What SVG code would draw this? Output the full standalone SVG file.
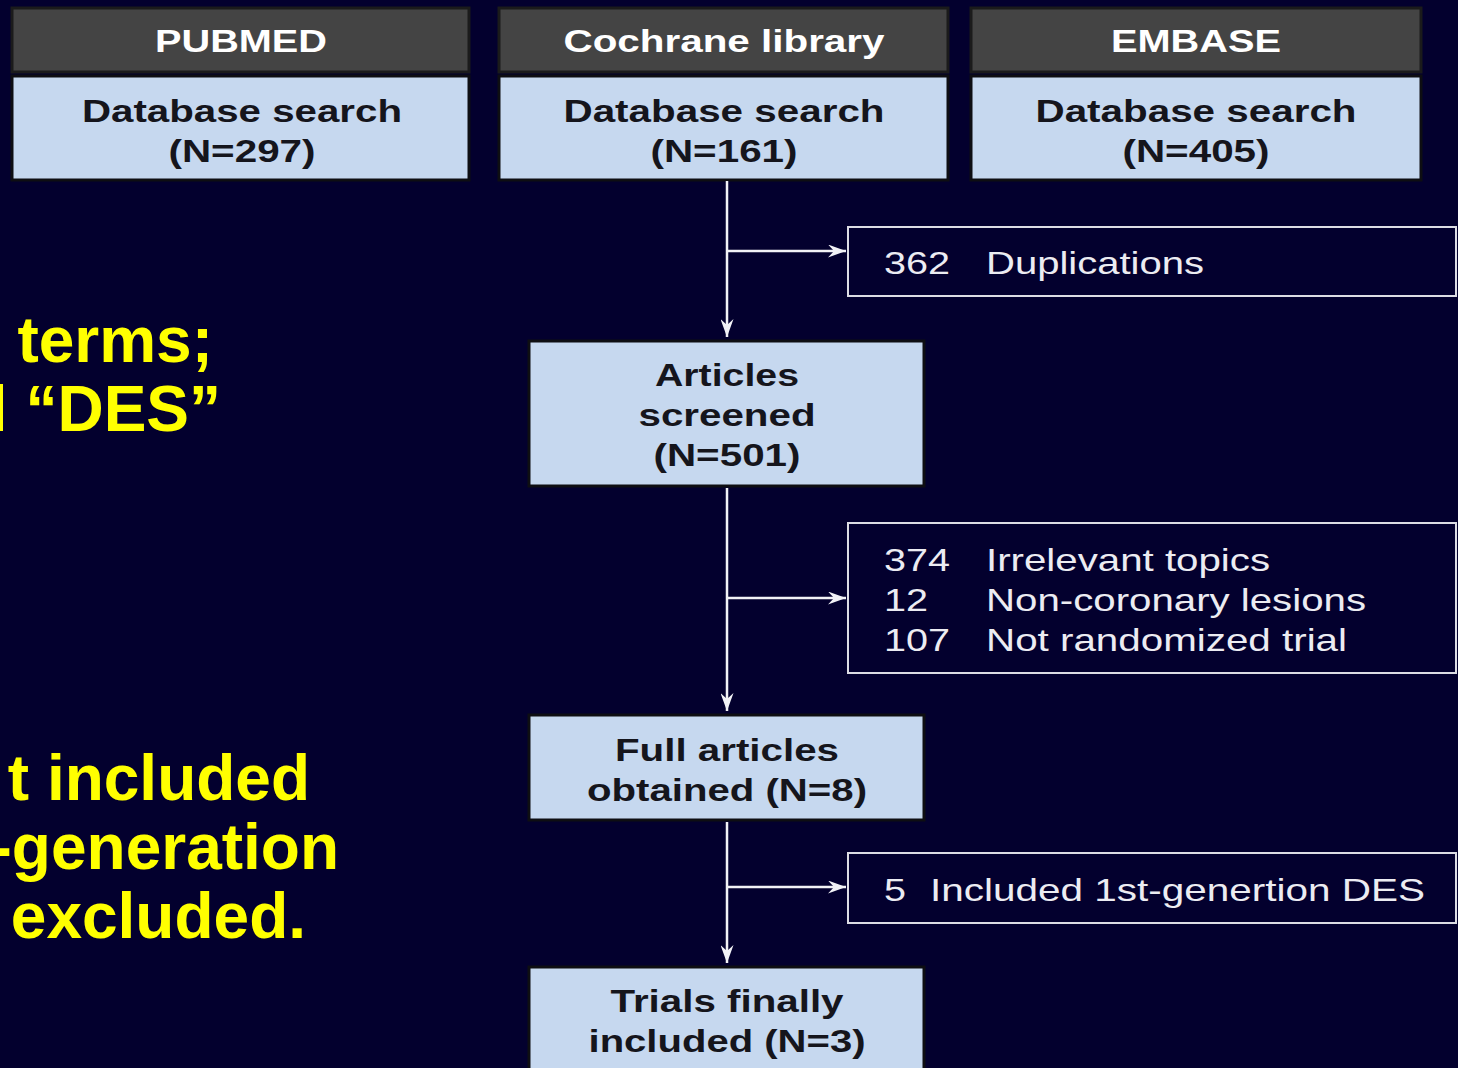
<svg xmlns="http://www.w3.org/2000/svg" width="1458" height="1068" viewBox="0 0 1458 1068">
<defs>
<marker id="arr" markerUnits="userSpaceOnUse" markerWidth="18" markerHeight="13" refX="18" refY="6.5" orient="auto">
<path d="M0,0 L18,6.5 L0,13 L6,6.5 z" fill="#f2f2f6"/>
</marker>
<style>
.hd{fill:#444444;stroke:#1b1b1b;stroke-width:3}
.bx{fill:#c6d8ef;stroke:#0e0e12;stroke-width:3}
.ex{fill:none;stroke:#dcdce4;stroke-width:2}
.ht{font-family:"Liberation Sans",Arial,sans-serif;font-weight:bold;font-size:32px;fill:#ffffff;text-anchor:middle}
.bt{font-family:"Liberation Sans",Arial,sans-serif;font-weight:bold;font-size:32px;fill:#15151c;text-anchor:middle}
.et{font-family:"Liberation Sans",Arial,sans-serif;font-size:32px;fill:#ececf2}
.yt{font-family:"Liberation Sans",Arial,sans-serif;font-weight:bold;font-size:64px;fill:#ffff00;text-anchor:end}
.ln{stroke:#f2f2f6;stroke-width:2.5;fill:none}
</style>
</defs>
<rect x="0" y="0" width="1458" height="1068" fill="#03002e"/>

<g id="yellow-text">
<text class="yt" x="213" y="362">terms;</text>
<text class="yt" x="221" y="431">l “DES”</text>
<text class="yt" x="310" y="800">t included</text>
<text class="yt" x="339" y="869">-generation</text>
<text class="yt" x="306" y="938">excluded.</text>
</g>

<g id="pubmed">
<rect class="hd" x="12" y="8" width="457" height="64"/>
<text class="ht" x="241" y="52" textLength="172" lengthAdjust="spacingAndGlyphs">PUBMED</text>
<rect class="bx" x="12" y="76" width="457" height="104"/>
<text class="bt" x="242" y="122" textLength="320" lengthAdjust="spacingAndGlyphs">Database search</text>
<text class="bt" x="242" y="162" textLength="147" lengthAdjust="spacingAndGlyphs">(N=297)</text>
</g>

<g id="cochrane">
<rect class="hd" x="499" y="8" width="449" height="64"/>
<text class="ht" x="724" y="52" textLength="321" lengthAdjust="spacingAndGlyphs">Cochrane library</text>
<rect class="bx" x="499" y="76" width="449" height="104"/>
<text class="bt" x="724" y="122" textLength="321" lengthAdjust="spacingAndGlyphs">Database search</text>
<text class="bt" x="724" y="162" textLength="147" lengthAdjust="spacingAndGlyphs">(N=161)</text>
</g>

<g id="embase">
<rect class="hd" x="971" y="8" width="450" height="64"/>
<text class="ht" x="1196" y="52" textLength="170" lengthAdjust="spacingAndGlyphs">EMBASE</text>
<rect class="bx" x="971" y="76" width="450" height="104"/>
<text class="bt" x="1196" y="122" textLength="321" lengthAdjust="spacingAndGlyphs">Database search</text>
<text class="bt" x="1196" y="162" textLength="147" lengthAdjust="spacingAndGlyphs">(N=405)</text>
</g>

<g id="duplications">
<rect class="ex" x="848" y="227" width="608" height="69"/>
<text class="et" x="884" y="274" textLength="66" lengthAdjust="spacingAndGlyphs">362</text>
<text class="et" x="986" y="274" textLength="218" lengthAdjust="spacingAndGlyphs">Duplications</text>
</g>

<g id="articles-screened">
<rect class="bx" x="529" y="341" width="395" height="145"/>
<text class="bt" x="727" y="386" textLength="144" lengthAdjust="spacingAndGlyphs">Articles</text>
<text class="bt" x="727" y="426" textLength="177" lengthAdjust="spacingAndGlyphs">screened</text>
<text class="bt" x="727" y="466" textLength="147" lengthAdjust="spacingAndGlyphs">(N=501)</text>
</g>

<g id="exclusions">
<rect class="ex" x="848" y="523" width="608" height="150"/>
<text class="et" x="884" y="571" textLength="66" lengthAdjust="spacingAndGlyphs">374</text>
<text class="et" x="986" y="571" textLength="284" lengthAdjust="spacingAndGlyphs">Irrelevant topics</text>
<text class="et" x="884" y="611" textLength="44" lengthAdjust="spacingAndGlyphs">12</text>
<text class="et" x="986" y="611" textLength="380" lengthAdjust="spacingAndGlyphs">Non-coronary lesions</text>
<text class="et" x="884" y="651" textLength="66" lengthAdjust="spacingAndGlyphs">107</text>
<text class="et" x="986" y="651" textLength="361" lengthAdjust="spacingAndGlyphs">Not randomized trial</text>
</g>

<g id="full-articles">
<rect class="bx" x="529" y="715" width="395" height="105"/>
<text class="bt" x="727" y="761" textLength="224" lengthAdjust="spacingAndGlyphs">Full articles</text>
<text class="bt" x="727" y="801" textLength="280" lengthAdjust="spacingAndGlyphs">obtained (N=8)</text>
</g>

<g id="first-gen">
<rect class="ex" x="848" y="853" width="608" height="70"/>
<text class="et" x="884" y="901" textLength="22" lengthAdjust="spacingAndGlyphs">5</text>
<text class="et" x="930" y="901" textLength="495" lengthAdjust="spacingAndGlyphs">Included 1st-genertion DES</text>
</g>

<g id="trials">
<rect class="bx" x="529" y="967" width="395" height="112"/>
<text class="bt" x="727" y="1012" textLength="233" lengthAdjust="spacingAndGlyphs">Trials finally</text>
<text class="bt" x="727" y="1052" textLength="277" lengthAdjust="spacingAndGlyphs">included (N=3)</text>
</g>

<g id="connectors">
<line class="ln" x1="727" y1="181" x2="727" y2="337" marker-end="url(#arr)"/>
<line class="ln" x1="727" y1="251" x2="846" y2="251" marker-end="url(#arr)"/>
<line class="ln" x1="727" y1="488" x2="727" y2="711" marker-end="url(#arr)"/>
<line class="ln" x1="727" y1="598" x2="846" y2="598" marker-end="url(#arr)"/>
<line class="ln" x1="727" y1="822" x2="727" y2="963" marker-end="url(#arr)"/>
<line class="ln" x1="727" y1="887" x2="846" y2="887" marker-end="url(#arr)"/>
</g>
</svg>
